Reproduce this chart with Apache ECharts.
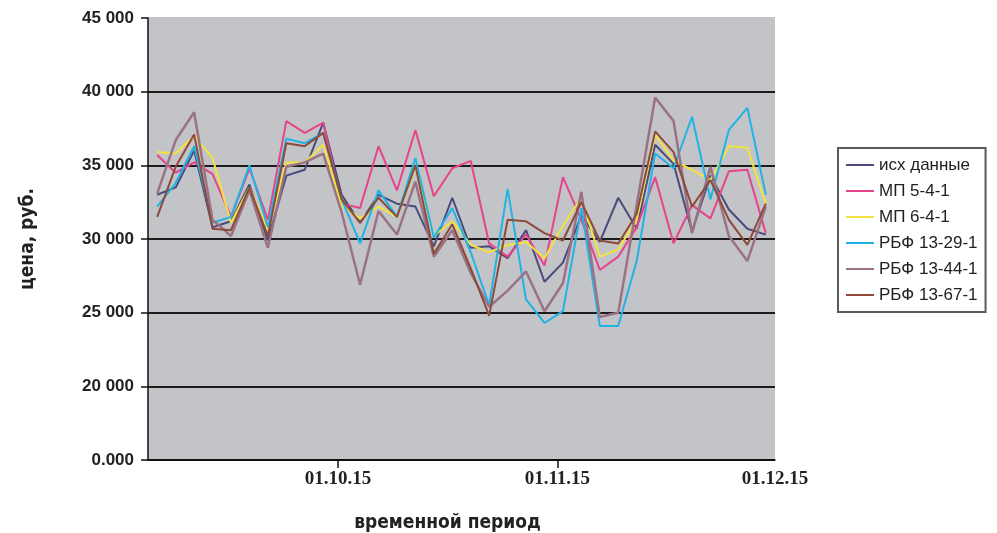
<!DOCTYPE html>
<html>
<head>
<meta charset="utf-8">
<script src="https://cdn.jsdelivr.net/npm/echarts@6/dist/echarts.min.js"></script>
<style>
  html, body { margin: 0; padding: 0; background: #fff; }
  #chart { width: 997px; height: 533px; }
</style>
</head>
<body>
<div id="chart"></div>
<script>
// point index along the period (34 observations)
var points = [];
for (var k = 0; k < 34; k++) points.push(k);

// date labels and where they fall on the point scale
var tickLabels = ['01.10.15', '01.11.15', '01.12.15'];
var tickPos = [9.8, 21.7, 33.5];

var seriesNames = ['исх данные', 'МП 5-4-1', 'МП 6-4-1', 'РБФ 13-29-1', 'РБФ 13-44-1', 'РБФ 13-67-1'];

var ishData = [33000, 33500, 36000, 30800, 31200, 33700, 29900, 34300, 34700, 37900,
  33000, 31100, 33000, 32400, 32200, 29500, 32800, 29400, 29500, 28700,
  30600, 27100, 28400, 31600, 29800, 32800, 30700, 36400, 35100, 30500,
  34300, 32000, 30700, 30300];
var mp541 = [35700, 34500, 35200, 34400, 31500, 34800, 31300, 38000, 37200, 37900,
  32400, 32100, 36300, 33300, 37400, 32900, 34800, 35300, 29700, 28800,
  30300, 28200, 34200, 31300, 27900, 28800, 30800, 34200, 29700, 32300,
  31400, 34600, 34700, 30400];
var mp641 = [35900, 35800, 37000, 35500, 31100, 33500, 30600, 35200, 35200, 36400,
  32300, 31400, 32200, 31500, 34900, 30200, 31200, 29600, 29100, 29600,
  29800, 28700, 30900, 32800, 28800, 29300, 31300, 37100, 35300, 34700,
  34000, 36300, 36200, 32400];
var rbf1329 = [32200, 33800, 36300, 31100, 31500, 35000, 30800, 36800, 36500, 37200,
  32700, 29700, 33300, 31500, 35500, 30100, 32100, 29100, 25500, 33400,
  25900, 24300, 25100, 32100, 24100, 24100, 28500, 35800, 34800, 38300,
  32700, 37400, 38900, 33000];
var rbf1344 = [33100, 36700, 38600, 31300, 30200, 33300, 29400, 34900, 35200, 35800,
  31800, 26900, 31900, 30300, 33900, 28800, 30600, 27700, 25400, 26500,
  27800, 25100, 27000, 33200, 24700, 25000, 32300, 39600, 38000, 30400,
  34900, 30200, 28500, 32200];
var rbf1367 = [31500, 34900, 37100, 30700, 30600, 33500, 30200, 36500, 36300, 37200,
  32700, 31100, 32800, 31500, 35000, 29000, 31000, 28000, 24800, 31300,
  31200, 30400, 29900, 32500, 29900, 29700, 31700, 37300, 35900, 32200,
  34000, 31300, 29600, 32400];

var allValues = [ishData, mp541, mp641, rbf1329, rbf1344, rbf1367];
var colors = ['#4b4a7e', '#e8438d', '#f3e33e', '#1fb3e6', '#9b7284', '#8c4a3a'];
var widths = [2, 2, 2, 2, 2.5, 2];

function pairs(arr) {
  return arr.map(function (v, i) { return [points[i], v]; });
}

var series = seriesNames.map(function (name, i) {
  return {
    name: name,
    type: 'line',
    symbol: 'none',
    data: pairs(allValues[i]),
    lineStyle: { color: colors[i], width: widths[i] },
    itemStyle: { color: colors[i] }
  };
});

var chart = echarts.init(document.getElementById('chart'));
chart.setOption({
  animation: false,
  backgroundColor: '#fff',
  grid: {
    left: 148, right: 222, top: 18, bottom: 73,
    outerBoundsMode: 'none',
    show: true, backgroundColor: '#c3c4c8', borderWidth: 0
  },
  legend: {
    orient: 'vertical',
    left: 838, top: 148,
    padding: [8, 8, 8, 8],
    itemGap: 8,
    itemWidth: 28, itemHeight: 2,
    icon: 'rect',
    backgroundColor: '#fff',
    borderColor: '#5a5a5a', borderWidth: 2,
    textStyle: { fontFamily: 'Liberation Sans', fontSize: 17, color: '#222', lineHeight: 18 },
    data: seriesNames
  },
  xAxis: {
    type: 'value',
    min: -0.5, max: 33.5,
    name: 'временной период',
    nameLocation: 'middle',
    nameGap: 54,
    nameTextStyle: {
      fontFamily: 'DejaVu Sans Condensed', fontWeight: 'bold', fontSize: 19, color: '#222',
      padding: [0, 28, 0, 0]
    },
    axisLine: { show: true, onZero: false, lineStyle: { color: '#111', width: 1.5 } },
    axisTick: { show: true, length: 8, customValues: tickPos.slice(0, 2), lineStyle: { color: '#111', width: 1.5 } },
    axisLabel: {
      customValues: tickPos,
      margin: 10,
      fontFamily: 'Liberation Serif', fontWeight: 'bold', fontSize: 19, color: '#222',
      formatter: function (v) {
        for (var i = 0; i < tickPos.length; i++) {
          if (Math.abs(tickPos[i] - v) < 0.01) return tickLabels[i];
        }
        return '';
      }
    },
    splitLine: { show: false }
  },
  yAxis: {
    type: 'value',
    min: 15000, max: 45000, interval: 5000,
    name: 'цена, руб.',
    nameLocation: 'middle',
    nameGap: 110,
    nameRotate: 90,
    nameTextStyle: { fontFamily: 'DejaVu Sans Condensed', fontWeight: 'bold', fontSize: 19, color: '#222' },
    axisLine: { show: true, onZero: false, lineStyle: { color: '#111', width: 1.5 } },
    axisTick: { show: true, length: 7, lineStyle: { color: '#111', width: 1.5 } },
    axisLabel: {
      margin: 14,
      fontFamily: 'Liberation Sans', fontWeight: 'bold', fontSize: 17, color: '#222',
      formatter: function (v) {
        if (v === 15000) return '0.000';
        return Math.floor(v / 1000) + ' 000';
      }
    },
    splitLine: {
      show: true,
      lineStyle: { color: ['#111', '#1c1c1c', '#1c1c1c', '#1c1c1c', '#1c1c1c', '#1c1c1c', '#c3c4c8'], width: 2 }
    }
  },
  series: series
});
</script>
</body>
</html>
